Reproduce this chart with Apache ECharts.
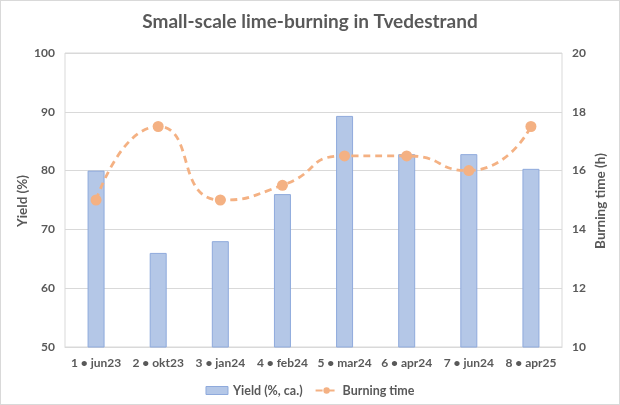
<!DOCTYPE html>
<html><head><meta charset="utf-8">
<script src="https://cdn.jsdelivr.net/npm/echarts@6/dist/echarts.min.js"></script>
<style>html,body{margin:0;padding:0;background:#fff}#c{width:620px;height:405px;box-sizing:border-box;border:1px solid #d9d9d9}</style>
</head><body><div id="c"></div>
<script>
var categories = ['1 • jun23','2 • okt23','3 • jan24','4 • feb24','5 • mar24','6 • apr24','7 • jun24','8 • apr25'];
var yieldValues = [80, 66, 68, 76, 89.3, 82.8, 82.8, 80.3];
var burningTime = [15, 17.5, 15, 15.5, 16.5, 16.5, 16, 17.5];
var leftTicks = {min: 50, max: 100, interval: 10};
var rightTicks = {min: 10, max: 20, interval: 2};
var axisTitles = ['Yield (%)', 'Burning time (h)'];

var font = 'Lato, "Open Sans", sans-serif';
var gray = '#595959';
var chart = echarts.init(document.getElementById('c'));
chart.setOption({
  animation: false,
  backgroundColor: '#fff',
  textStyle: {fontFamily: font},
  title: {text: 'Small-scale lime-burning in Tvedestrand', left: 'center', top: 6,
    textStyle: {fontFamily: font, fontSize: 19, fontWeight: 'bold', color: gray}},
  grid: {left: 64, right: 57, top: 52, bottom: 57, show: true, borderColor: '#d9d9d9', borderWidth: 1},
  legend: {bottom: 2, left: 'center', itemGap: 12, textStyle: {fontFamily: font, fontSize: 12.5, fontWeight: 'bold', color: gray},
    data: [
      {name: 'Yield (%, ca.)', icon: 'rect', itemStyle: {color: '#b4c7e7', borderColor: '#8faadc', borderWidth: 1}},
      {name: 'Burning time'}
    ], itemWidth: 22, itemHeight: 8},
  graphic: [
    {type: 'text', x: 22, y: 200, rotation: Math.PI / 2,
      style: {text: axisTitles[0], align: 'center', verticalAlign: 'middle', fill: gray, font: 'bold 13.5px ' + font}},
    {type: 'text', x: 600, y: 200, rotation: Math.PI / 2,
      style: {text: axisTitles[1], align: 'center', verticalAlign: 'middle', fill: gray, font: 'bold 13.5px ' + font}}
  ],
  xAxis: {type: 'category', data: categories,
    axisLine: {show: true, lineStyle: {color: '#d9d9d9'}}, axisTick: {show: false},
    axisLabel: {interval: 0, color: gray, fontSize: 12, fontWeight: 'bold', margin: 10, fontFamily: font}},
  yAxis: [
    {type: 'value', min: leftTicks.min, max: leftTicks.max, interval: leftTicks.interval,
      axisLabel: {color: gray, fontSize: 12, fontWeight: 'bold', margin: 10, fontFamily: font},
      axisLine: {show: false}, axisTick: {show: false},
      splitLine: {lineStyle: {color: '#d9d9d9'}}},
    {type: 'value', min: rightTicks.min, max: rightTicks.max, interval: rightTicks.interval,
      axisLabel: {color: gray, fontSize: 12, fontWeight: 'bold', margin: 10, fontFamily: font},
      axisLine: {show: false}, axisTick: {show: false}, splitLine: {show: false}}
  ],
  series: [
    {name: 'Yield (%, ca.)', type: 'bar', data: yieldValues, barWidth: 17,
      itemStyle: {color: '#b4c7e7', borderColor: '#8faadc', borderWidth: 1}},
    {name: 'Burning time', type: 'line', yAxisIndex: 1, data: burningTime, smooth: 0.6,
      symbol: 'circle', symbolSize: 11,
      lineStyle: {color: '#f4b183', width: 2.8, type: [7, 5]},
      itemStyle: {color: '#f4b183'}}
  ]
});
</script></body></html>
